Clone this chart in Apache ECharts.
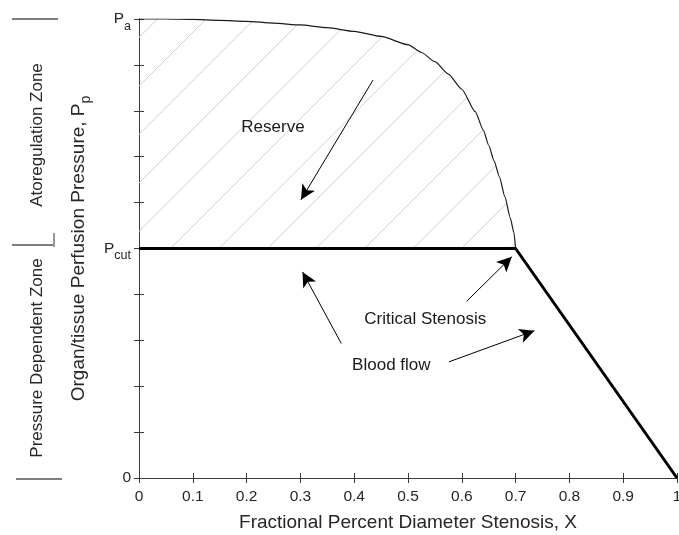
<!DOCTYPE html>
<html><head><meta charset="utf-8">
<script src="https://cdn.jsdelivr.net/npm/echarts@6/dist/echarts.min.js"></script>
<style>html,body{margin:0;padding:0;background:#fff}#c{width:679px;height:535px}</style>
</head><body><div id="c"></div>
<script>
// ---- data ----
const xTickValues = [0,0.1,0.2,0.3,0.4,0.5,0.6,0.7,0.8,0.9,1];
const reserveCurveX = [0,0.05,0.1,0.15,0.2,0.25,0.3,0.35,0.4,0.45,0.5,0.525,0.55,0.575,0.6,0.625,0.64,0.65,0.66,0.67,0.68,0.69,0.697,0.7];
const reserveCurveY = [10,10,9.99,9.97,9.95,9.91,9.87,9.81,9.73,9.62,9.44,9.27,9.07,8.80,8.47,7.98,7.58,7.25,6.91,6.56,6.13,5.67,5.34,5.0];
const limitX = [0,0.7,1];
const limitY = [5,5,0];
const yTickLabels = {0:'{p|0}', 5:'{p|P}{s|cut}', 10:'{p|P}{s|a}'};
const arrowStart = [[0.435,8.67],[0.609,3.85],[0.376,2.93],[0.576,2.53]];
const arrowEnd   = [[0.301,6.06],[0.693,4.82],[0.304,4.49],[0.735,3.21]];
const noteText = ['Reserve','Critical Stenosis','Blood flow'];
const notePos  = [[0.249,7.63],[0.532,3.46],[0.469,2.45]];
const xAxisName = 'Fractional Percent Diameter Stenosis, X';
const yAxisName = '{n|Organ/tissue Perfusion Pressure, P}{s|p}';
const zoneText = ['Atoregulation Zone','Pressure Dependent Zone'];

// ---- hatch pattern (45 degree lines) ----
const T = 97, step = 48.5, phase = 31;
const tile = document.createElement('canvas');
tile.width = T; tile.height = T;
const tc = tile.getContext('2d');
tc.strokeStyle = '#cfcfcf'; tc.lineWidth = 1;
for (let k = -2; k <= 6; k++) {
  const c = phase + k*step;
  tc.beginPath(); tc.moveTo(c + 20, -20); tc.lineTo(-20, c + 20); tc.stroke();
}

const FONT = '"Liberation Sans", Arial, Helvetica, sans-serif';
const TXT = '#262626';
const AX = '#3a3a3a';

const chart = echarts.init(document.getElementById('c'), null, {renderer:'canvas'});
const axisBase = {
  min:0, axisLine:{show:true, lineStyle:{color:AX, width:1}},
  axisTick:{show:true, inside:true, length:5, lineStyle:{color:AX}},
  splitLine:{show:false}
};
chart.setOption({
  animation:false,
  backgroundColor:'#fff',
  grid:{left:139, right:2, top:19, bottom:57, containLabel:false, outerBoundsMode:'none'},
  xAxis:[
    Object.assign({}, axisBase, {type:'value', max:1, interval:0.1, position:'bottom',
      axisLabel:{show:true, margin:11, color:TXT, fontSize:15.5, fontFamily:FONT, hideOverlap:false,
        formatter:v => { const r = Math.round(v*10)/10; return xTickValues.includes(r) ? String(r) : ''; }},
      name:xAxisName, nameLocation:'middle', nameGap:35,
      nameTextStyle:{color:TXT, fontSize:19, fontFamily:FONT}}),
    Object.assign({}, axisBase, {type:'value', max:1, interval:0.1, position:'top', axisLabel:{show:false}})
  ],
  yAxis:[
    Object.assign({}, axisBase, {type:'value', max:10, interval:1, position:'left',
      axisLabel:{show:true, margin:8, color:TXT, fontFamily:FONT,
        formatter:v => yTickLabels[v] || '',
        rich:{p:{fontSize:15.5, color:TXT, fontFamily:FONT}, s:{fontSize:12.5, color:TXT, fontFamily:FONT, padding:[15,0,0,0]}}},
      name:yAxisName, nameLocation:'middle', nameGap:41, nameRotate:90,
      nameTextStyle:{color:TXT, fontFamily:FONT,
        rich:{n:{fontSize:19, color:TXT, fontFamily:FONT}, s:{fontSize:14, color:TXT, fontFamily:FONT, padding:[14,0,0,0]}}}}),
    Object.assign({}, axisBase, {type:'value', max:10, interval:1, position:'right', axisLabel:{show:false}})
  ],
  series:[
    {type:'line', name:'reserve', data:reserveCurveX.map((x,i)=>[x,reserveCurveY[i]]),
      showSymbol:false, symbol:'none', smooth:0.2, smoothMonotone:'x',
      lineStyle:{color:'#1a1a1a', width:1.2},
      areaStyle:{origin:5, color:{image:tile, repeat:'repeat'}, opacity:1},
      z:3},
    {type:'line', name:'limit', data:limitX.map((x,i)=>[x,limitY[i]]),
      showSymbol:false, symbol:'none', lineStyle:{color:'#000', width:3}, z:4,
      markLine:{silent:true, symbol:['none','arrow'], symbolSize:[11,15],
        lineStyle:{color:'#000', width:1, type:'solid'}, label:{show:false},
        data:arrowStart.map((s,i)=>[{coord:s},{coord:arrowEnd[i]}])},
      markPoint:{silent:true, symbol:'circle', symbolSize:0,
        label:{show:true, position:'inside', color:'#1a1a1a', fontSize:17, fontFamily:FONT, formatter:p=>p.name},
        data:noteText.map((t,i)=>({name:t, coord:notePos[i]}))}}
  ],
  graphic:[
    {type:'line', shape:{x1:12,y1:19,x2:58,y2:19}, style:{stroke:'#555', lineWidth:1.5}},
    {type:'line', shape:{x1:12,y1:245,x2:53,y2:245}, style:{stroke:'#555', lineWidth:1.5}},
    {type:'line', shape:{x1:54,y1:233,x2:54,y2:247}, style:{stroke:'#555', lineWidth:1.2}},
    {type:'line', shape:{x1:16,y1:479,x2:62,y2:479}, style:{stroke:'#555', lineWidth:1.5}},
    {type:'text', x:37, y:135, rotation:Math.PI/2, style:{text:zoneText[0], fill:TXT, font:'17px '+FONT, textAlign:'center', textVerticalAlign:'middle'}},
    {type:'text', x:37, y:358, rotation:Math.PI/2, style:{text:zoneText[1], fill:TXT, font:'17px '+FONT, textAlign:'center', textVerticalAlign:'middle'}}
  ]
});
</script></body></html>
